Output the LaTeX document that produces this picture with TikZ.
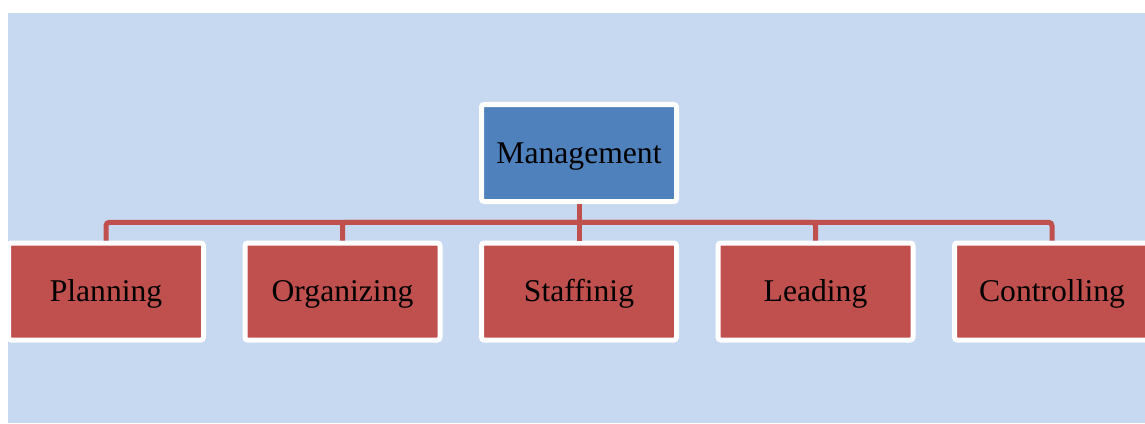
\documentclass[tikz,border=0pt]{standalone}
\usepackage{fontspec}
\setmainfont{Liberation Serif}
\usetikzlibrary{calc,positioning}
\definecolor{sky}{RGB}{198,217,240}
\definecolor{boss}{RGB}{79,129,189}
\definecolor{brick}{RGB}{192,80,77}
\tikzset{
chart/.style={node distance=0.73cm},
box/.style={rectangle,draw=white,line width=0.1cm,rounded corners=1.5pt,
    minimum width=3.9cm,minimum height=1.94cm,inner sep=0pt,
    text height=11.6pt,text depth=0pt,
    font=\fontsize{18}{21}\selectfont,text=black},
head/.style={box,fill=boss},
task/.style={box,fill=brick},
link/.style={draw=brick,line width=0.1cm,rounded corners=2pt},
}

\begin{document}
\begin{tikzpicture}[chart]

    \useasboundingbox (0,0) rectangle (22.9,-8.46);
    \fill[sky] (0.16,-0.26) rectangle (22.9,-8.46);

    \node[task] (s) at (11.58,-5.83) {Staffinig};
    \node[task] (o) [left=of s] {Organizing};
    \node[task] (p) [left=of o] {Planning};
    \node[task] (l) [right=of s] {Leading};
    \node[task] (c) [right=of l] {Controlling};
    \node[head] (m) [above=of s] {Management};

    \coordinate (bus) at ($(m.south)!0.5!(s.north)$);

    \draw[link] (m.south) -- (bus);
    \foreach \t in {p,o,s,l,c}
        \draw[link] (bus) -| (\t.north);

\end{tikzpicture}
\end{document}
